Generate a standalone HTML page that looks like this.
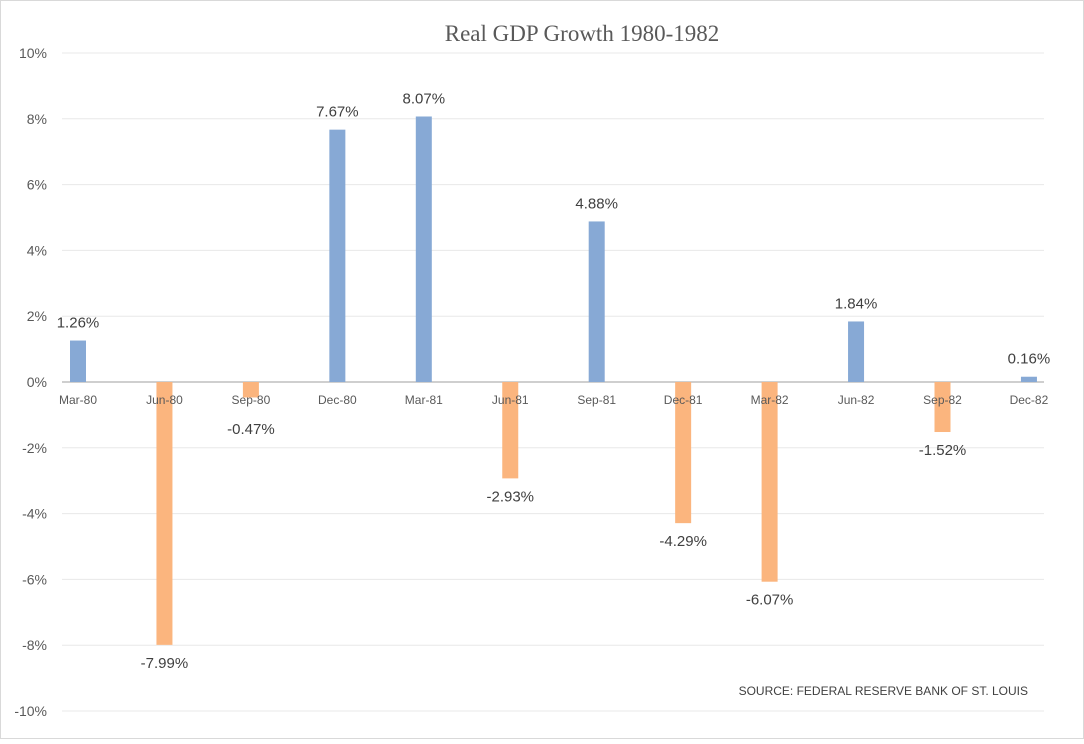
<!DOCTYPE html>
<html><head><meta charset="utf-8"><style>
body{margin:0;background:#fff;}
svg text{font-family:"Liberation Sans",sans-serif;}
</style></head><body>
<svg id="chart" width="1084" height="739" xmlns="http://www.w3.org/2000/svg">
<rect x="0.5" y="0.5" width="1083" height="738" fill="#fff" stroke="#d9d9d9"/>
<text x="582" y="41" text-anchor="middle" font-size="23" fill="#595959" style="font-family:'Liberation Serif',serif">Real GDP Growth 1980-1982</text>
<g id="grid"></g><g id="bars"></g><g id="labels"></g>
<text x="1028" y="695" text-anchor="end" font-size="12" fill="#404040">SOURCE:  FEDERAL RESERVE BANK OF ST. LOUIS</text>
</svg>
<script>
const categories=["Mar-80","Jun-80","Sep-80","Dec-80","Mar-81","Jun-81","Sep-81","Dec-81","Mar-82","Jun-82","Sep-82","Dec-82"];
const growth=[1.26,-7.99,-0.47,7.67,8.07,-2.93,4.88,-4.29,-6.07,1.84,-1.52,0.16];
const yTicks=[10,8,6,4,2,0,-2,-4,-6,-8,-10];
const NS="http://www.w3.org/2000/svg";
const y=v=>382-v*32.9;
const x=i=>78+i*86.45;
function mk(tag,attrs,parent,txt){const e=document.createElementNS(NS,tag);for(const k in attrs)e.setAttribute(k,attrs[k]);if(txt!==undefined)e.textContent=txt;document.getElementById(parent).appendChild(e);return e;}
yTicks.forEach(t=>{
  const l=mk("line",{x1:62,x2:1044,y1:y(t),y2:y(t),stroke:t===0?"#bfbfbf":"#e8e8e8","stroke-width":t===0?1.5:1},"grid");
  
  
  const tx=mk("text",{x:47,y:y(t)+5,"text-anchor":"end","font-size":14,fill:"#595959"},"grid",t+"%");
  
  
});
categories.forEach((c,i)=>{
  const tx=mk("text",{x:x(i),y:404,"text-anchor":"middle","font-size":12,fill:"#595959"},"labels",c);
  
  
  const v=growth[i];
  const top=Math.min(y(v),y(0)),h=Math.abs(y(v)-y(0));
  const r=mk("rect",{x:x(i)-8,y:top,width:16,height:h,fill:v>=0?"#87a9d5":"#fbb57e"},"bars");
  
  
  const ly=v>=0?y(v)-13:Math.max(y(v)+23,434);
  const lt=mk("text",{x:x(i),y:ly,"text-anchor":"middle","font-size":15,fill:"#404040"},"labels",v.toFixed(2)+"%");
  
  
});
</script>
</body></html>
